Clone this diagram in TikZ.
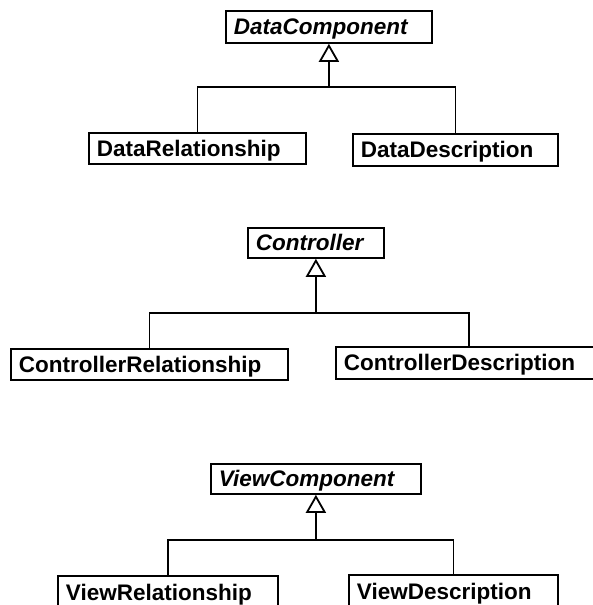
\documentclass[tikz,border=0pt]{standalone}
\usepackage{fontspec}
\setmainfont{Liberation Sans}
\usetikzlibrary{arrows.meta}

\tikzset{
  cls/.style={draw, line width=1.8pt, anchor=north west, align=left,
    inner xsep=8pt, inner ysep=0pt, text height=16pt, text depth=0pt,
    font=\fontsize{22.5}{26}\selectfont\bfseries},
  abstract/.style={cls, font=\fontsize{22.5}{26}\selectfont\bfseries\itshape},
  wire/.style={line width=1.8pt},
  gen/.style={wire, -{Triangle[open, length=18pt, width=20pt, line width=1.8pt]}}
}

\begin{document}
\begin{tikzpicture}[x=1pt, y=-1pt]
  \useasboundingbox (0,0) rectangle (593,605);
  \clip (0,0) rectangle (593,605);

  % data package
  \node[abstract, text width=190pt, minimum height=32pt] (dc) at (225,10) {DataComponent};
  \node[cls, text width=201pt, minimum height=31pt] (dr) at (88,132) {DataRelationship};
  \node[cls, text width=189pt, minimum height=32pt] (dd) at (352,133) {DataDescription};
  \coordinate (j1) at (dc.south |- 0,87);
  \draw[wire] (dr.north) |- (j1) -| (dd.north);
  \draw[gen] (j1) -- (dc.south);

  % controller package
  \node[abstract, text width=120pt, minimum height=30pt] (ctl) at (247,227) {Controller};
  \node[cls, text width=261pt, minimum height=31pt] (cr) at (10,348) {ControllerRelationship};
  \node[cls, text width=250pt, minimum height=32pt] (cd) at (335,346) {ControllerDescription};
  \coordinate (j2) at (ctl.south |- 0,313);
  \draw[wire] (cr.north) |- (j2) -| (cd.north);
  \draw[gen] (j2) -- (ctl.south);

  % view package
  \node[abstract, text width=194pt, minimum height=30pt] (vc) at (210,463) {ViewComponent};
  \node[cls, text width=204pt, minimum height=34pt] (vr) at (57,575) {ViewRelationship};
  \node[cls, text width=193pt, minimum height=34pt] (vd) at (348,574) {ViewDescription};
  \coordinate (j3) at (vc.south |- 0,540);
  \draw[wire] (vr.north) |- (j3) -| (vd.north);
  \draw[gen] (j3) -- (vc.south);
\end{tikzpicture}
\end{document}
